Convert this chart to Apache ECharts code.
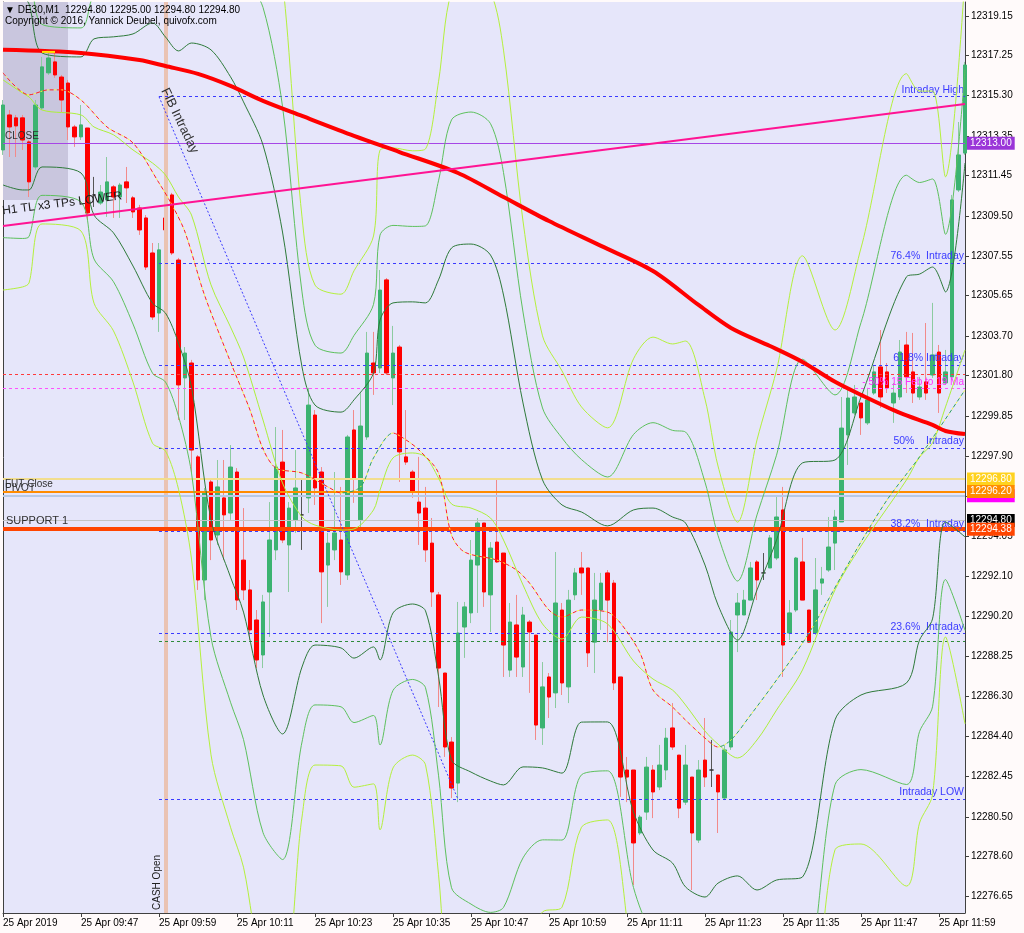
<!DOCTYPE html>
<html>
<head>
<meta charset="utf-8">
<title>DE30 M1</title>
<script src="https://cdn.jsdelivr.net/npm/echarts@6.0.0/dist/echarts.min.js"></script>
<style>
html,body{margin:0;padding:0;background:#FFFAFA;}
#chart{width:1024px;height:933px;}
</style>
</head>
<body>
<div id="chart"></div>
<script>
// ---------------- DATA ----------------
const firstBarMinute = 9 * 60 + 35;
const barCount = 149;
const categories = [];
for (let i = 0; i < barCount; i++) {
  const m = firstBarMinute + i;
  categories.push(('0' + Math.floor(m / 60)).slice(-2) + ':' + ('0' + (m % 60)).slice(-2));
}
const xTickLabels = ['25 Apr 2019','25 Apr 09:47','25 Apr 09:59','25 Apr 10:11','25 Apr 10:23','25 Apr 10:35',
  '25 Apr 10:47','25 Apr 10:59','25 Apr 11:11','25 Apr 11:23','25 Apr 11:35','25 Apr 11:47','25 Apr 11:59'];
const yTickLabels = ['12319.15','12317.25','12315.30','12313.35','12311.45','12309.50','12307.55','12305.65',
  '12303.70','12301.80','12299.85','12297.90','12295.95','12294.05','12292.10','12290.20','12288.25','12286.30',
  '12284.40','12282.45','12280.50','12278.60','12276.65'];
const yTickValues = yTickLabels.map(Number);

const opens = [
12312.68,12314.37,12314.23,12314.23,12313.07,12311.86,12314.71,12316.40,12316.93,12316.20,
12315.91,12313.79,12313.31,12313.74,12310.51,12310.12,12310.27,12310.90,12310.41,12311.14,
12310.37,12309.88,12309.40,12307.71,12304.81,12309.40,12310.51,12307.37,12301.68,12302.40,
12297.87,12291.93,12296.66,12294.10,12295.89,12295.16,12297.14,12292.89,12291.45,12290.00,
12288.31,12291.35,12293.38,12297.62,12293.62,12294.83,12295.07,12295.89,12299.89,12297.14,
12292.65,12293.38,12293.86,12292.17,12299.17,12294.83,12298.83,12302.40,12302.16,12306.41,
12301.68,12303.17,12297.87,12297.14,12295.69,12295.40,12293.71,12291.21,12287.44,12284.11,
12282.13,12289.66,12290.34,12292.65,12294.68,12291.21,12293.76,12293.23,12287.58,12289.76,
12287.73,12289.90,12289.27,12284.79,12287.25,12286.48,12290.48,12286.77,12291.21,12292.51,
12292.51,12288.93,12290.48,12292.27,12291.78,12287.25,12282.76,12282.76,12279.72,12280.73,
12282.76,12281.94,12282.76,12284.79,12283.48,12281.21,12282.42,12279.38,12283.24,12282.76,
12282.52,12281.41,12283.87,12290.24,12290.24,12290.96,12292.80,12292.27,12292.51,12292.99,
12295.31,12289.37,12290.48,12292.80,12290.48,12289.37,12291.78,12292.41,12293.71,12294.73,
12298.93,12299.99,12300.47,12299.51,12300.95,12302.21,12301.97,12300.47,12300.76,12303.27,
12301.97,12300.76,12301.49,12301.82,12302.93,12301.44,12301.73,12310.75,12312.53];
const closes = [
12314.85,12313.79,12313.84,12313.16,12311.14,12314.85,12316.69,12317.12,12316.30,12315.09,
12313.79,12313.31,12313.89,12309.64,12310.51,12310.65,12311.14,12310.41,12310.99,12310.85,
12309.69,12308.82,12307.03,12304.62,12307.86,12308.82,12307.71,12301.34,12302.88,12298.20,
12291.93,12296.13,12293.86,12296.42,12295.07,12297.38,12290.96,12291.45,12289.52,12288.07,
12290.87,12293.86,12297.38,12293.86,12295.40,12296.37,12295.07,12300.37,12296.37,12292.32,
12293.71,12294.20,12292.32,12298.83,12296.85,12299.36,12302.88,12301.92,12305.92,12301.92,
12302.88,12298.11,12297.62,12296.18,12295.16,12293.38,12291.35,12287.68,12283.87,12281.89,
12289.37,12290.63,12292.89,12294.68,12291.35,12293.47,12292.80,12288.79,12289.90,12288.21,
12290.24,12289.42,12284.93,12286.77,12286.28,12290.82,12286.96,12290.96,12292.27,12292.27,
12288.41,12290.96,12291.78,12290.96,12286.96,12282.42,12282.42,12279.24,12280.49,12282.90,
12281.70,12283.00,12284.30,12283.87,12280.92,12283.00,12279.72,12282.76,12282.42,12282.76,
12281.70,12283.73,12289.42,12290.82,12290.96,12292.51,12291.93,12292.27,12293.96,12294.97,
12288.79,12290.34,12292.99,12290.96,12288.93,12291.45,12291.98,12293.52,12294.97,12299.26,
12300.71,12300.76,12299.75,12300.62,12301.97,12300.76,12301.20,12300.95,12302.93,12301.73,
12300.95,12301.24,12300.95,12302.79,12300.95,12301.97,12310.27,12312.44,12316.78];
const lows = [
12312.44,12312.34,12312.34,12312.68,12310.41,12311.72,12314.61,12316.30,12316.16,12314.51,
12313.16,12312.83,12313.16,12309.30,12309.93,12310.03,12309.45,12309.40,12309.40,12310.12,
12309.40,12308.58,12306.89,12304.48,12303.90,12301.34,12307.61,12299.65,12299.65,12297.14,
12291.45,12290.96,12292.89,12293.62,12292.89,12294.83,12290.48,12290.96,12289.03,12287.68,
12287.68,12289.18,12292.89,12293.71,12291.35,12294.20,12293.38,12295.16,12295.55,12289.85,
12290.63,12292.89,12291.69,12291.93,12295.65,12294.34,12298.69,12300.86,12301.92,12301.82,
12300.37,12296.66,12297.48,12295.89,12293.62,12292.80,12290.63,12285.80,12283.39,12281.41,
12281.21,12288.17,12289.85,12290.34,12290.63,12289.42,12292.75,12287.25,12287.25,12287.25,
12287.25,12286.48,12284.21,12283.97,12285.27,12285.75,12286.38,12285.99,12290.96,12291.21,
12287.73,12287.44,12289.52,12288.93,12286.62,12281.46,12281.21,12277.21,12279.62,12280.35,
12280.44,12281.79,12282.28,12283.73,12280.44,12281.07,12276.97,12279.24,12281.94,12281.94,
12279.72,12281.31,12283.73,12288.45,12290.24,12290.96,12290.96,12291.93,12292.51,12292.89,
12287.25,12289.03,12290.38,12290.96,12288.89,12289.27,12291.21,12292.32,12292.41,12294.73,
12297.48,12299.89,12298.93,12299.41,12300.86,12300.23,12300.95,12299.51,12300.62,12300.95,
12300.47,12300.62,12300.62,12301.68,12299.99,12301.34,12301.58,12310.65,12312.44];
const highs = [
12315.09,12314.61,12314.37,12314.37,12313.16,12315.09,12317.17,12317.36,12317.36,12316.30,
12316.06,12313.89,12314.85,12313.74,12311.38,12310.99,12312.34,12310.99,12311.09,12311.86,
12310.46,12310.03,12309.54,12308.19,12308.19,12315.24,12310.61,12307.47,12303.17,12302.55,
12297.96,12296.37,12296.85,12297.72,12297.72,12298.44,12297.33,12295.40,12291.93,12290.48,
12291.21,12295.69,12299.31,12299.17,12295.69,12298.20,12296.85,12301.20,12300.13,12297.38,
12294.20,12297.14,12296.42,12298.93,12300.13,12300.95,12303.90,12303.90,12306.89,12306.50,
12304.19,12303.27,12300.13,12297.24,12297.87,12296.42,12294.92,12291.35,12287.44,12284.35,
12290.87,12290.87,12293.86,12294.92,12294.68,12293.76,12296.76,12293.23,12290.82,12291.21,
12290.63,12290.00,12289.27,12287.97,12287.44,12293.28,12290.82,12291.45,12292.51,12293.28,
12292.51,12292.27,12292.27,12292.41,12291.93,12287.25,12283.39,12282.76,12280.59,12283.39,
12283.00,12283.97,12284.79,12285.99,12283.48,12283.97,12282.42,12283.24,12285.27,12284.21,
12282.52,12283.97,12290.00,12291.30,12291.45,12292.80,12292.89,12293.23,12294.10,12295.94,
12296.42,12290.96,12293.04,12293.96,12290.48,12292.99,12292.56,12294.97,12295.31,12300.76,
12301.10,12301.34,12300.47,12301.20,12302.31,12303.99,12302.40,12301.44,12303.51,12303.90,
12303.85,12301.73,12304.33,12305.30,12303.27,12303.03,12310.51,12314.03,12316.93];

// Bollinger bands: middle line and the offset of the inner (dark) band, read at sample bars
const bandIdx = [0,3,4,6,12,14,17,20,23,25,27,29,32,35,37,40,43,46,48,52,54,57,58,60,63,65,67,69,72,75,77,80,83,86,89,93,97,100,103,105,108,110,113,116,119,123,128,132,139,141,143,145,148];
const bandMid = [12316.06,12315.43,12315.24,12314.61,12314.37,12313.79,12313.41,12312.68,12312.05,12311.47,12310.41,12309.54,
  12306.17,12304.14,12302.69,12299.65,12296.61,12294.97,12294.58,12294.34,12294.39,12295.31,
  12296.27,12297.82,12298.06,12297.87,12296.85,12295.60,12295.40,12294.92,12293.86,12291.69,
  12289.81,12289.08,12290.14,12289.81,12288.02,12287.15,12286.62,12285.90,12284.64,12284.01,
  12283.34,12284.21,12285.65,12287.59,12291.45,12293.57,12296.76,12297.86,12298.54,12300.28,12303.03];
const bandDev = [5.07,4.68,4.49,2.75,2.80,4.25,4.73,5.60,6.76,6.66,7.05,8.30,
  11.34,12.07,12.31,13.27,12.11,7.24,5.79,5.69,6.23,6.61,
  8.20,7.48,7.29,7.43,9.56,12.35,12.74,12.69,11.82,8.78,
  6.95,6.47,5.07,4.73,7.29,8.25,8.35,8.78,8.01,6.71,
  5.69,7.24,8.20,9.99,6.27,7.19,9.80,8.83,8.49,5.55,9.02];
const bandMultipliers = [2, 1.5, 1, 0, -1, -1.5, -2];

// fast dashed moving average
const emaIdx = [0,4,7,9,12,16,20,24,26,28,31,35,38,40,42,46,50,52,55,57,60,62,64,67,69,71,76,79,81,84,86,89,93,95,98,100,103,105,108,110,112,115,119,124,131,136,141,148];
const emaVal = [12316.40,12315.34,12315.58,12315.58,12315.09,12313.79,12313.02,12311.09,12310.03,12308.72,
  12305.68,12302.45,12300.13,12298.25,12297.33,12297.09,12296.42,12296.13,12296.42,12297.82,
  12299.02,12298.69,12298.20,12297.09,12294.10,12293.28,12292.89,12292.41,12291.78,12290.48,
  12290.14,12290.48,12290.38,12289.85,12288.41,12286.62,12285.80,12285.17,12284.30,12283.87,
  12284.21,12285.41,12287.10,12289.37,12293.23,12295.79,12297.87,12301.10];
const emaRisingRanges = [[52, 60], [110, 148]];

// slow moving average (thick red)
const maIdx = [0,12,21,25,30,35,40,46,54,61,70,77,84,92,100,107,112,118,123,128,132,138,143,145,148];
const maVal = [12317.51,12317.36,12317.02,12316.73,12316.35,12315.77,12315.05,12314.32,12313.36,12312.58,
  12311.57,12310.41,12309.25,12308.05,12306.84,12305.20,12304.09,12303.22,12302.45,12301.49,
  12300.86,12299.99,12299.41,12299.12,12298.97];

const trendLine = [[0, 12309.01], [148, 12314.90]];          // H1 TL x3 TPs LOWER
const closeLevel = 12313.00;
const futCloseLevel = 12296.20;
const goldLevel = 12296.80;
const pivotLevel = 12296.00;
const bidLevel = 12294.80;
const support1Level = 12294.38;
const redDashLevel = 12301.87;
const febMarLevel = 12301.20;
const greenDashLevel = 12288.99;
const fibStart = 24, fibEnd = 148;
const fibLevels = [12315.25, 12307.23, 12302.31, 12298.30, 12294.30, 12289.35, 12281.36];
const fibTexts = ['Intraday High','76.4%  Intraday','61.8% Intraday','50%    Intraday','38.2%  Intraday','23.6%  Intraday','Intraday LOW'];
const fibDiagonal = [[24, 12315.25], [70, 12281.35]];
const cashOpenIdx = 25;
const shadeBox = [[0, 12319.82], [10, 12310.27]];
const highMark = [[6, 12317.41], [8, 12317.41]];
const Y_MIN = 12275.86, Y_MAX = 12319.82;

// ---------------- CHART ----------------
const FONT = '"Liberation Sans", Arial, "DejaVu Sans", sans-serif';
const chart = echarts.init(document.getElementById('chart'));

const wickData = opens.map((o, i) => [o, closes[i], lows[i], highs[i]]);
const bodyData = opens.map((o, i) => [o, closes[i], Math.min(o, closes[i]), Math.max(o, closes[i])]);

const bandColors = { '2': '#B4F03C', '1.5': '#5DC05D', '1': '#2E7A3A', '0': '#ADF03A' };
const bandSeries = bandMultipliers.map(k => ({
  type: 'line', z: 5, silent: true, showSymbol: false, smooth: 0.3,
  data: bandIdx.map((ix, j) => [ix, +(bandMid[j] + k * bandDev[j]).toFixed(2)]),
  lineStyle: { color: bandColors[String(Math.abs(k))], width: 1 }
}));

const series = [];
series.push({
  type: 'line', data: [], z: 1, silent: true,
  markArea: { silent: true, itemStyle: { color: '#C9C6DE' },
    data: [[{ coord: shadeBox[0] }, { coord: shadeBox[1] }]] },
  markLine: { silent: true, symbol: ['none', 'none'], animation: false,
    data: [{ xAxis: cashOpenIdx, lineStyle: { color: '#EAC3B3', width: 4, type: 'solid' }, label: { show: false } }] }
});
series.push({ type: 'candlestick', data: wickData, barWidth: 1, z: 3, silent: true,
  itemStyle: { color: '#8CCBA0', color0: '#F28A8A', borderColor: '#8CCBA0', borderColor0: '#F28A8A', borderColorDoji: '#555', borderWidth: 1 } });
series.push({ type: 'candlestick', data: bodyData, barWidth: 4, z: 4, silent: true,
  itemStyle: { color: '#3CB371', color0: '#FF0000', borderColor: '#3CB371', borderColor0: '#FF0000', borderColorDoji: '#333', borderWidth: 1 } });
bandSeries.forEach(s => series.push(s));

const emaData = emaIdx.map((ix, j) => [ix, emaVal[j]]);
const emaSeriesIndex = series.length;
series.push({ type: 'line', z: 6, silent: true, showSymbol: false, smooth: 0.3, data: emaData,
  lineStyle: { width: 1, type: [4, 3] } });
series.push({ type: 'line', z: 6, silent: true, showSymbol: false, smooth: 0.3, data: emaData,
  lineStyle: { width: 1, color: '#FFFF30', type: [2, 5], dashOffset: 2.5 } });

series.push({ type: 'line', z: 7, silent: true, showSymbol: false, smooth: 0.3,
  data: maIdx.map((ix, j) => [ix, maVal[j]]), lineStyle: { color: '#FF0000', width: 4 } });
series.push({ type: 'line', z: 7, silent: true, showSymbol: false, data: trendLine,
  lineStyle: { color: '#FF1493', width: 2 } });
series.push({ type: 'line', z: 7, silent: true, showSymbol: false, data: highMark,
  lineStyle: { color: '#FFE000', width: 2 } });

const txt = (t) => ({ show: true, formatter: t, position: 'insideStartTop', color: '#303030', fontSize: 10, fontFamily: FONT, distance: 2 });
const tag = (v, bg) => ({ yAxis: v, lineStyle: { color: 'rgba(0,0,0,0)', width: 1 },
  label: { show: true, position: 'end', formatter: v.toFixed(2), color: '#FFFFFF', backgroundColor: bg,
    padding: [2, 3, 1, 3], fontSize: 10, fontFamily: FONT, distance: 2 } });

const levelLines = [
  { yAxis: redDashLevel, lineStyle: { color: '#FF3A3A', width: 1, type: [3, 3] }, label: { show: false } },
  { yAxis: febMarLevel, lineStyle: { color: '#FF50FF', width: 1, type: [3, 3] },
    label: { show: true, formatter: '- 50% 15 Feb to 19 Ma', position: 'insideEndTop', color: '#FF30FF', fontSize: 10, fontFamily: FONT, distance: 1 } },
  { yAxis: closeLevel, lineStyle: { color: '#A646E6', width: 1, type: 'solid' }, label: txt('CLOSE') },
  { yAxis: goldLevel, lineStyle: { color: '#F2DE8E', width: 2, type: 'solid' }, label: { show: false } },
  { yAxis: pivotLevel, lineStyle: { color: '#B7C9E6', width: 2, type: 'solid' }, label: txt('PIVOT') },
  { yAxis: futCloseLevel, lineStyle: { color: '#FF8C00', width: 2, type: 'solid' }, label: txt('FUT Close') },
  { yAxis: bidLevel, lineStyle: { color: '#C4C4C4', width: 1, type: 'solid' }, label: { show: false } },
  { yAxis: support1Level, lineStyle: { color: '#FF4500', width: 4, type: 'solid' },
    label: Object.assign(txt('SUPPORT 1'), { fontSize: 11, distance: 3 }) },
  tag(pivotLevel, '#FF00FF'), tag(closeLevel, '#9A35D8'), tag(goldLevel, '#FFD21F'),
  tag(futCloseLevel, '#FF8C00'), tag(bidLevel, '#000000'), tag(support1Level, '#FF4500')
];
series.push({ type: 'line', data: [], z: 8, silent: true,
  markLine: { silent: true, symbol: ['none', 'none'], animation: false, data: levelLines } });

const fibLines = fibLevels.map((v, k) => [
  { coord: [fibStart, v], lineStyle: { color: '#3A3AFF', width: 1, type: [3, 3] },
    label: { show: true, formatter: fibTexts[k], position: 'insideEndTop', color: '#3A3AFF', fontSize: 10.5, fontFamily: FONT, distance: 1 } },
  { coord: [fibEnd, v] }
]);
fibLines.push([{ coord: [fibStart, greenDashLevel], lineStyle: { color: '#2E8B3A', width: 1, type: [3, 3] }, label: { show: false } },
  { coord: [fibEnd, greenDashLevel] }]);
fibLines.push([{ coord: fibDiagonal[0], lineStyle: { color: '#3A3AFF', width: 1, type: [2, 2] }, label: { show: false } },
  { coord: fibDiagonal[1] }]);
series.push({ type: 'line', data: [], z: 8, silent: true,
  markLine: { silent: true, symbol: ['none', 'none'], animation: false, data: fibLines } });

const pieces = [];
let prev = -1;
emaRisingRanges.forEach(r => {
  pieces.push({ gt: prev, lte: r[0], color: '#FF2020' });
  pieces.push({ gt: r[0], lte: r[1], color: '#2FA060' });
  prev = r[1];
});
pieces.push({ gt: prev, color: '#FF2020' });

const option = {
  animation: false,
  backgroundColor: '#FFFAFA',
  textStyle: { fontFamily: FONT },
  grid: { left: 2, right: 59, top: 2, bottom: 20, show: true, backgroundColor: '#E6E6FA', borderWidth: 0 },
  visualMap: [{ type: 'piecewise', show: false, dimension: 0, seriesIndex: emaSeriesIndex, pieces: pieces }],
  xAxis: {
    type: 'category', data: categories, boundaryGap: false,
    axisLine: { show: true, lineStyle: { color: '#404040', width: 1 } },
    axisTick: { show: true, interval: 11, length: 4, lineStyle: { color: '#404040' } },
    axisLabel: { interval: 11, align: 'left', margin: 5, fontSize: 10, fontFamily: FONT, color: '#000',
      formatter: (v, i) => xTickLabels[i / 12] || '' },
    splitLine: { show: false }
  },
  yAxis: [{
    type: 'value', position: 'right', min: Y_MIN, max: Y_MAX,
    axisLine: { show: true, lineStyle: { color: '#404040', width: 1 } },
    axisTick: { show: true, length: 4, customValues: yTickValues, lineStyle: { color: '#404040' } },
    axisLabel: { customValues: yTickValues, formatter: v => v.toFixed(2), margin: 6, fontSize: 10, fontFamily: FONT, color: '#000' },
    splitLine: { show: false }
  }, {
    type: 'value', position: 'left', min: Y_MIN, max: Y_MAX,
    axisLine: { show: true, lineStyle: { color: '#404040', width: 1 } },
    axisTick: { show: false }, axisLabel: { show: false }, splitLine: { show: false }
  }],
  series: series,
  graphic: [
    { type: 'text', left: 5, top: 5, z: 100, style: { text: '\u25BC DE30,M1  12294.80 12295.00 12294.80 12294.80', font: '10px ' + FONT, fill: '#000' } },
    { type: 'text', left: 5, top: 16, z: 100, style: { text: 'Copyright \u00A9 2016, Yannick Deubel, quivofx.com', font: '10px ' + FONT, fill: '#000' } },
    { type: 'text', x: 3, y: 217, rotation: 0.125, z: 100, style: { text: 'H1 TL x3 TPs LOWER', font: '12px ' + FONT, fill: '#202020', textVerticalAlign: 'bottom', textAlign: 'left' } },
    { type: 'text', x: 170, y: 86, rotation: -1.12, z: 100, style: { text: 'FIB Intraday', font: '13px ' + FONT, fill: '#303030', textVerticalAlign: 'top', textAlign: 'left' } },
    { type: 'text', x: 157, y: 910, rotation: Math.PI / 2, z: 100, style: { text: 'CASH Open', font: '10px ' + FONT, fill: '#202020', textVerticalAlign: 'middle', textAlign: 'left' } }
  ]
};
chart.setOption(option);
</script>
</body>
</html>
